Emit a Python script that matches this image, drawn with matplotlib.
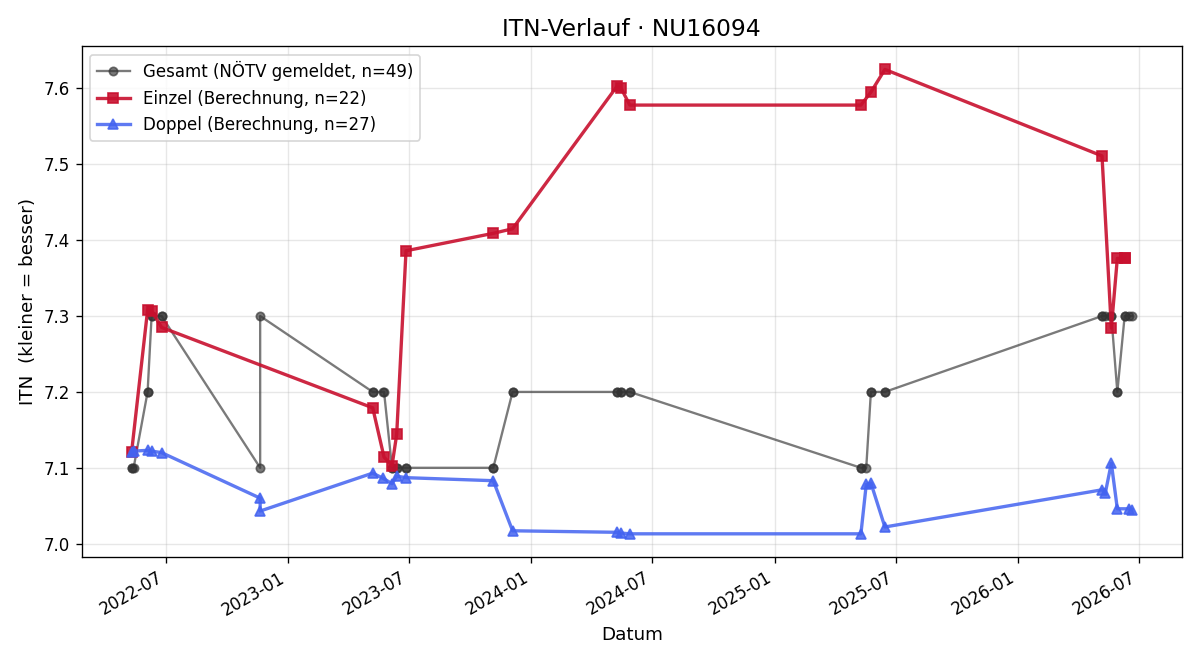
import numpy as np
import pandas as pd
import matplotlib
matplotlib.use('Agg')
import matplotlib.pyplot as plt
import matplotlib.dates as mdates

# Einzel (singles) computed ITN
einzel_dates = ['2022-05-11', '2022-06-04', '2022-06-10', '2022-06-25',
                '2023-05-08', '2023-05-25', '2023-06-06', '2023-06-13', '2023-06-27',
                '2023-11-05', '2023-12-04',
                '2024-05-09', '2024-05-15', '2024-05-28',
                '2025-05-10', '2025-05-25', '2025-06-15',
                '2026-05-07', '2026-05-21', '2026-05-30', '2026-06-10', '2026-06-10']
einzel_vals = [7.121, 7.308, 7.307, 7.285,
               7.179, 7.114, 7.103, 7.144, 7.386,
               7.409, 7.415,
               7.603, 7.600, 7.578,
               7.578, 7.595, 7.625,
               7.511, 7.284, 7.376, 7.376, 7.376]

# Doppel (doubles) computed ITN
doppel_dates = ['2022-05-11', '2022-05-14', '2022-06-04', '2022-06-10', '2022-06-25',
                '2022-11-20', '2022-11-20',
                '2023-05-08', '2023-05-24', '2023-06-06', '2023-06-13', '2023-06-27',
                '2023-11-05', '2023-12-04',
                '2024-05-09', '2024-05-15', '2024-05-28',
                '2025-05-10', '2025-05-18', '2025-05-25', '2025-06-15',
                '2026-05-07', '2026-05-12', '2026-05-21', '2026-05-30',
                '2026-06-17', '2026-06-21']
doppel_vals = [7.121, 7.122, 7.123, 7.122, 7.120,
               7.060, 7.043,
               7.093, 7.086, 7.079, 7.089, 7.087,
               7.083, 7.017,
               7.015, 7.014, 7.013,
               7.013, 7.078, 7.080, 7.022,
               7.071, 7.067, 7.106, 7.046,
               7.046, 7.045]

# Gesamt (reported by NÖTV)
gesamt_dates = ['2022-05-11', '2022-05-11', '2022-05-14', '2022-06-04', '2022-06-04',
                '2022-06-10', '2022-06-10', '2022-06-25', '2022-06-25',
                '2022-11-20', '2022-11-20',
                '2023-05-08', '2023-05-08', '2023-05-24', '2023-05-25',
                '2023-06-06', '2023-06-06', '2023-06-13', '2023-06-13',
                '2023-06-27', '2023-06-27',
                '2023-11-05', '2023-11-05', '2023-12-04', '2023-12-04',
                '2024-05-09', '2024-05-09', '2024-05-15', '2024-05-15',
                '2024-05-28', '2024-05-28',
                '2025-05-10', '2025-05-10', '2025-05-18', '2025-05-25', '2025-05-25',
                '2025-06-15', '2025-06-15',
                '2026-05-07', '2026-05-07', '2026-05-12', '2026-05-21', '2026-05-21',
                '2026-05-30', '2026-05-30', '2026-06-10', '2026-06-10',
                '2026-06-17', '2026-06-21']
gesamt_vals = [7.1, 7.1, 7.1, 7.2, 7.2,
               7.3, 7.3, 7.3, 7.3,
               7.1, 7.3,
               7.2, 7.2, 7.2, 7.2,
               7.1, 7.1, 7.1, 7.1,
               7.1, 7.1,
               7.1, 7.1, 7.2, 7.2,
               7.2, 7.2, 7.2, 7.2,
               7.2, 7.2,
               7.1, 7.1, 7.1, 7.2, 7.2,
               7.2, 7.2,
               7.3, 7.3, 7.3, 7.3, 7.3,
               7.2, 7.2, 7.3, 7.3,
               7.3, 7.3]

fig, ax = plt.subplots(figsize=(10, 5.5), dpi=120)

ax.plot(pd.to_datetime(gesamt_dates), gesamt_vals, color='#333333', alpha=0.65,
        marker='o', markersize=5, linewidth=1.4,
        label='Gesamt (NÖTV gemeldet, n=49)')
ax.plot(pd.to_datetime(einzel_dates), einzel_vals, color='#c8102e', alpha=0.9,
        marker='s', markersize=6, linewidth=2.0,
        label='Einzel (Berechnung, n=22)')
ax.plot(pd.to_datetime(doppel_dates), doppel_vals, color='#4363f0', alpha=0.85,
        marker='^', markersize=6, linewidth=2.0,
        label='Doppel (Berechnung, n=27)')

ax.xaxis.set_major_locator(mdates.MonthLocator(bymonth=[1, 7]))
ax.xaxis.set_major_formatter(mdates.DateFormatter('%Y-%m'))
ax.grid(True, alpha=0.3)
ax.set_title('ITN-Verlauf · NU16094', fontsize=14)
ax.set_xlabel('Datum', fontsize=11)
ax.set_ylabel('ITN  (kleiner = besser)', fontsize=11)
ax.legend(loc='upper left', fontsize=10)
fig.autofmt_xdate()
fig.subplots_adjust(left=0.068, right=0.985, top=0.93, bottom=0.156)
fig.savefig('out.png', dpi=120)
